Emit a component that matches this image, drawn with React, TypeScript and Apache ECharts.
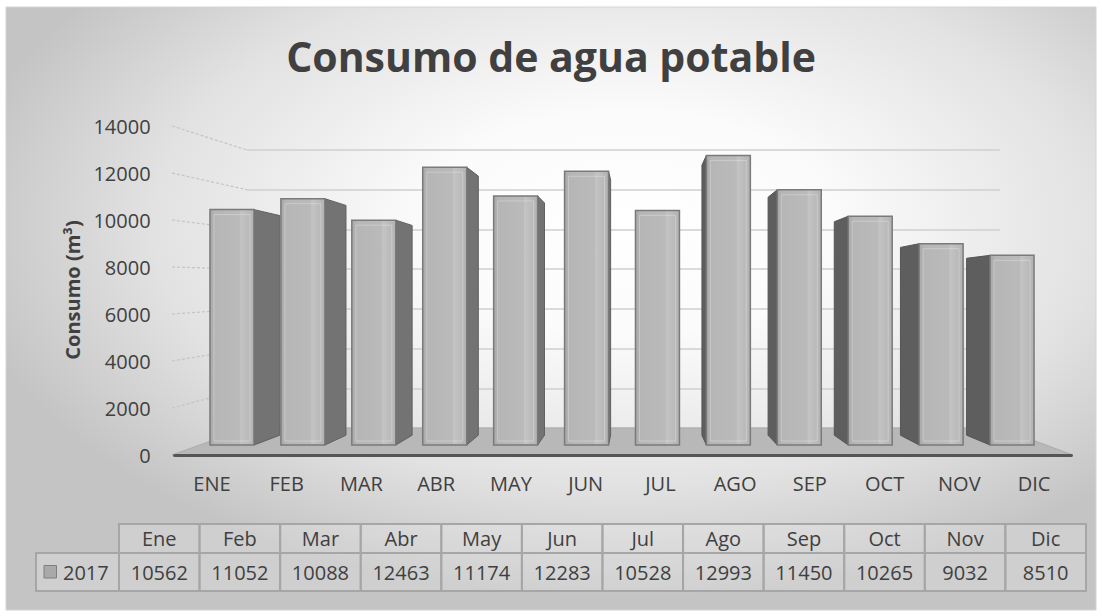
import React, { useEffect, useRef } from "react";
import * as echarts from "echarts";

const categories = ["ENE", "FEB", "MAR", "ABR", "MAY", "JUN", "JUL", "AGO", "SEP", "OCT", "NOV", "DIC"];
const tableHeaders = ["Ene", "Feb", "Mar", "Abr", "May", "Jun", "Jul", "Ago", "Sep", "Oct", "Nov", "Dic"];
const seriesName = "2017";
const consumo2017 = [10562, 11052, 10088, 12463, 11174, 12283, 10528, 12993, 11450, 10265, 9032, 8510];
const yTicks = [0, 2000, 4000, 6000, 8000, 10000, 12000, 14000];
const yAxisTitle = "Consumo (m³)";
const chartTitle = "Consumo de agua potable";

const FONT = "'Open Sans', 'Noto Sans', sans-serif";
const TXT = "#404040";
const Y_MAX = yTicks[yTicks.length - 1];
const Y_INT = yTicks[1] - yTicks[0];

// layout
const FRONT = { left: 174.6, top: 126, width: 896.8, height: 329 };
const WALL = { left: 247, top: 150, width: 753, height: 278 };
const BARS = { left: 196.5, top: 133, width: 851, height: 312 };
const VP = [640, 299];
const DEPTH = 0.067;

const TBL_LEFT = 119;
const COL_W = 80.58;
const HDR_TOP = 524;
const ROW_TOP = 553;
const ROW_BOT = 591;
const LEG_LEFT = 36;

function renderItem(params: any, api: any) {
  const i = api.value(0);
  const v = api.value(1);
  const top = api.coord([i, v]);
  const base = api.coord([i, 0]);
  const bw = api.size([1, 0])[0] * 0.62;
  const xl = top[0] - bw / 2;
  const xr = top[0] + bw / 2;
  const yt = top[1];
  const yb = base[1];
  const back = (x: number, y: number) => [x + (VP[0] - x) * DEPTH, y + (VP[1] - y) * DEPTH];
  const children: any[] = [];
  if (xr < VP[0]) {
    children.push({
      type: "polygon",
      shape: { points: [[xr, yt], back(xr, yt), back(xr, yb), [xr, yb]] },
      style: { fill: "#737373", stroke: "#606060", lineWidth: 1 },
    });
  }
  if (xl > VP[0]) {
    children.push({
      type: "polygon",
      shape: { points: [[xl, yt], back(xl, yt), back(xl, yb), [xl, yb]] },
      style: { fill: "#5e5e5e", stroke: "#555555", lineWidth: 1 },
    });
  }
  children.push({
    type: "rect",
    shape: { x: xl, y: yt, width: bw, height: yb - yt },
    style: {
      fill: new echarts.graphic.LinearGradient(0, 0, 1, 0, [
        { offset: 0, color: "#a8a8a8" },
        { offset: 0.12, color: "#b6b6b6" },
        { offset: 0.68, color: "#bababa" },
        { offset: 0.7, color: "#c4c4c4" },
        { offset: 1, color: "#b3b3b3" },
      ]),
      stroke: "#7a7a7a",
      lineWidth: 1.5,
    },
  });
  children.push({
    type: "rect",
    shape: { x: xl + 4, y: yt + 5, width: bw - 8, height: yb - yt - 9 },
    style: { fill: "none", stroke: "rgba(255,255,255,0.28)", lineWidth: 1 },
  });
  return { type: "group", children };
}

export default function App() {
  const ref = useRef<HTMLDivElement>(null);
  useEffect(() => {
    if (!ref.current) return;
    const chart = echarts.init(ref.current, null, { renderer: "svg" });
    const valueAxisBase = { type: "value", min: 0, max: Y_MAX, interval: Y_INT };
    chart.setOption({
      animation: false,
      title: {
        text: chartTitle,
        left: "center",
        top: 30,
        textStyle: { fontFamily: FONT, fontSize: 41, fontWeight: "bold", color: TXT },
      },
      grid: [{ ...FRONT }, { ...WALL }, { ...BARS }],
      xAxis: [
        {
          gridIndex: 0,
          type: "category",
          data: categories,
          z: 5,
          axisLine: { show: true, lineStyle: { color: "#555555", width: 3 } },
          axisTick: { show: false },
          axisLabel: { color: TXT, fontSize: 20, fontFamily: FONT, margin: 18 },
        },
        { gridIndex: 1, type: "category", data: categories, show: false },
        { gridIndex: 2, type: "category", data: categories, show: false },
      ],
      yAxis: [
        {
          gridIndex: 0,
          ...valueAxisBase,
          axisLabel: {
            color: TXT,
            fontSize: 20,
            fontFamily: FONT,
            margin: 24,
            formatter: (v: number) => String(v),
          },
          axisLine: { show: false },
          axisTick: { show: false },
          splitLine: { show: false },
        },
        {
          gridIndex: 1,
          ...valueAxisBase,
          axisLabel: { show: false },
          axisLine: { show: false },
          axisTick: { show: false },
          splitLine: { show: true, lineStyle: { color: "#cfcfcf", width: 1.5 } },
        },
        { gridIndex: 2, ...valueAxisBase, show: false },
      ],
      series: [
        {
          name: seriesName,
          type: "custom",
          xAxisIndex: 2,
          yAxisIndex: 2,
          z: 3,
          data: consumo2017.map((v, i) => [i, v]),
          renderItem,
        },
      ],
    });

    const frontY = (v: number) => chart.convertToPixel({ yAxisIndex: 0 }, v) as number;
    const wallY = (v: number) => chart.convertToPixel({ yAxisIndex: 1 }, v) as number;
    const FL = 172, FR = 1073, BL = WALL.left, BR = WALL.left + WALL.width;

    const elements: any[] = [];
    elements.push({
      type: "rect",
      z: -100,
      shape: { x: 6, y: 7, width: 1090, height: 603 },
      style: {
        fill: new echarts.graphic.RadialGradient(0.57, 0.36, 0.62, [
          { offset: 0, color: "#ffffff" },
          { offset: 0.3, color: "#fbfbfb" },
          { offset: 0.7, color: "#e2e2e2" },
          { offset: 1, color: "#c4c4c4" },
        ]),
        stroke: "#d4d4d4",
        lineWidth: 1,
      },
    });
    yTicks.slice(1).forEach((v) => {
      elements.push({
        type: "line",
        z: 0,
        shape: { x1: FL, y1: frontY(v), x2: BL, y2: wallY(v) },
        style: { stroke: "#c4c4c4", lineWidth: 1.2, lineDash: [3, 2] },
      });
    });
    elements.push({
      type: "polygon",
      z: 1,
      shape: { points: [[FL, frontY(0)], [FR, frontY(0)], [BR, wallY(0)], [BL, wallY(0)]] },
      style: { fill: "#b8b8b8", stroke: "#ababab", lineWidth: 1 },
    });
    elements.push({
      type: "text",
      x: 72,
      y: 290,
      rotation: Math.PI / 2,
      style: {
        text: yAxisTitle,
        font: `bold 20px ${FONT}`,
        fill: TXT,
        align: "center",
        verticalAlign: "middle",
      },
    });
    // data table
    const cellFill = "rgba(255,255,255,0.2)";
    const border = "#a6a6a6";
    tableHeaders.forEach((h, i) => {
      const x = TBL_LEFT + i * COL_W;
      elements.push({
        type: "rect",
        z: 2,
        shape: { x, y: HDR_TOP, width: COL_W, height: ROW_TOP - HDR_TOP },
        style: { fill: cellFill, stroke: border, lineWidth: 2 },
      });
      elements.push({
        type: "rect",
        z: 2,
        shape: { x, y: ROW_TOP, width: COL_W, height: ROW_BOT - ROW_TOP },
        style: { fill: cellFill, stroke: border, lineWidth: 2 },
      });
      elements.push({
        type: "text",
        z: 3,
        x: x + COL_W / 2,
        y: (HDR_TOP + ROW_TOP) / 2,
        style: { text: h, font: `20px ${FONT}`, fill: TXT, align: "center", verticalAlign: "middle" },
      });
      elements.push({
        type: "text",
        z: 3,
        x: x + COL_W / 2,
        y: (ROW_TOP + ROW_BOT) / 2,
        style: { text: String(consumo2017[i]), font: `20px ${FONT}`, fill: TXT, align: "center", verticalAlign: "middle" },
      });
    });
    elements.push({
      type: "rect",
      z: 2,
      shape: { x: LEG_LEFT, y: ROW_TOP, width: TBL_LEFT - LEG_LEFT, height: ROW_BOT - ROW_TOP },
      style: { fill: cellFill, stroke: border, lineWidth: 2 },
    });
    elements.push({
      type: "rect",
      z: 3,
      shape: { x: 44, y: 565.5, width: 12.5, height: 12.5 },
      style: { fill: "#a9a9a9", stroke: "#7f7f7f", lineWidth: 1 },
    });
    elements.push({
      type: "text",
      z: 3,
      x: 63,
      y: (ROW_TOP + ROW_BOT) / 2,
      style: { text: seriesName, font: `20px ${FONT}`, fill: TXT, align: "left", verticalAlign: "middle" },
    });

    chart.setOption({ graphic: { elements } });
    return () => chart.dispose();
  }, []);
  return (
    <div
      ref={ref}
      style={{ position: "fixed", left: 0, top: 0, width: 1102, height: 616, background: "#ffffff" }}
    />
  );
}
